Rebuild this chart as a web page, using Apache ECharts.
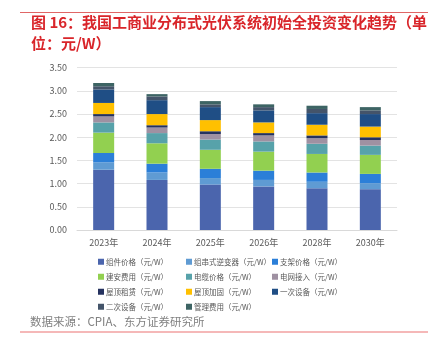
<!DOCTYPE html>
<html>
<head>
<meta charset="utf-8">
<script src="https://cdn.jsdelivr.net/npm/echarts@6/dist/echarts.min.js"></script>
<style>
html,body{margin:0;padding:0;background:#fff;}
#c{width:428px;height:351px;}
</style>
</head>
<body>
<div id="c"></div>
<script>
var categories = ['2023年','2024年','2025年','2026年','2028年','2030年'];
var seriesNames = ['组件价格（元/W）','组串式逆变器（元/W）','支架价格（元/W）','建安费用（元/W）','电缆价格（元/W）','电网接入（元/W）','屋顶租赁（元/W）','屋顶加固（元/W）','一次设备（元/W）','二次设备（元/W）','管理费用（元/W）'];
var module_ = [1.30, 1.08, 0.98, 0.94, 0.90, 0.88];
var inverter = [0.16, 0.16, 0.14, 0.14, 0.14, 0.13];
var bracket = [0.20, 0.19, 0.20, 0.20, 0.20, 0.20];
var install = [0.44, 0.44, 0.41, 0.41, 0.40, 0.41];
var cable = [0.22, 0.22, 0.22, 0.22, 0.22, 0.20];
var grid = [0.13, 0.12, 0.12, 0.13, 0.12, 0.12];
var roofRent = [0.05, 0.05, 0.06, 0.05, 0.06, 0.06];
var roofReinforce = [0.24, 0.24, 0.24, 0.23, 0.23, 0.23];
var primaryEquip = [0.29, 0.30, 0.28, 0.26, 0.25, 0.27];
var secondaryEquip = [0.07, 0.08, 0.06, 0.07, 0.09, 0.08];
var mgmt = [0.07, 0.05, 0.07, 0.06, 0.07, 0.07];
var yTicks = [0, 0.5, 1, 1.5, 2, 2.5, 3, 3.5];

var values = [module_, inverter, bracket, install, cable, grid, roofRent, roofReinforce, primaryEquip, secondaryEquip, mgmt];
var colors = ['#4b65ad','#5f9bd3','#2b7fd8','#92d050','#57a2aa','#9f91a2','#25325f','#ffc000','#1f4e85','#44546a','#3d6464'];

var chart = echarts.init(document.getElementById('c'), null, {renderer:'canvas'});
var series = seriesNames.map(function(n,i){
  return {name:n, type:'bar', stack:'total', barWidth:21, data:values[i],
    itemStyle:{color:colors[i]}, emphasis:{disabled:true}};
});
var colX = [98, 186, 272];
var rowY = [258, 273, 288, 303];
var legends = seriesNames.map(function(n,i){
  return {data:[n], left:colX[i%3], top:rowY[Math.floor(i/3)], padding:0, itemWidth:6, itemHeight:6, itemGap:0,
    icon:'rect', textStyle:{fontSize:7.5, color:'#595959', padding:[0,0,0,-3]}, selectedMode:false};
});
chart.setOption({
  animation:false,
  textStyle:{fontFamily:'"Noto Sans CJK SC", "Noto Sans", sans-serif'},
  grid:{left:77, right:31, top:67.7, bottom:121},
  legend:legends,
  xAxis:{type:'category', data:categories,
    axisLine:{lineStyle:{color:'#d9d9d9'}}, axisTick:{show:false},
    axisLabel:{color:'#595959', fontSize:9, margin:8}},
  yAxis:{type:'value', min:0, max:3.5, interval:0.5,
    axisLine:{show:false}, axisTick:{show:false},
    splitLine:{lineStyle:{color:'#e3e3e3'}},
    axisLabel:{color:'#595959', fontSize:9, margin:10, formatter:function(v){return v.toFixed(2);}}},
  series:series,
  graphic:[
    {type:'line', shape:{x1:20,y1:12.5,x2:428,y2:12.5}, style:{stroke:'#e06666', lineWidth:1}},
    {type:'text', left:31, top:15, style:{text:'图 16：我国工商业分布式光伏系统初始全投资变化趋势（单', fill:'#d9252a', font:'bold 15px "Noto Sans CJK SC"'}},
    {type:'text', left:31, top:36, style:{text:'位：元/W）', fill:'#d9252a', font:'bold 15px "Noto Sans CJK SC"'}},
    {type:'text', left:30, top:316, style:{text:'数据来源：CPIA、东方证券研究所', fill:'#808080', font:'11.5px "Noto Sans CJK SC"'}},
    {type:'line', shape:{x1:20,y1:332,x2:428,y2:332}, style:{stroke:'#f2a0a0', lineWidth:1.5}}
  ]
});
</script>
</body>
</html>
